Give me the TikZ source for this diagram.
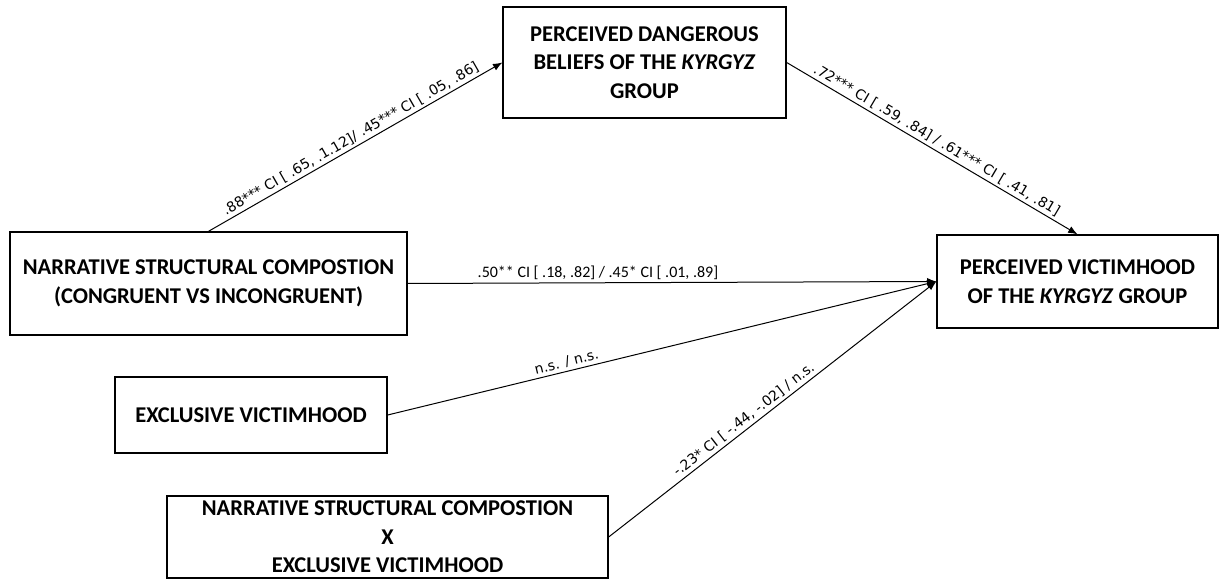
\documentclass[tikz,border=0pt]{standalone}
\usepackage{fontspec}
\setmainfont{Carlito}
\newfontfamily\labelfont{DejaVu Sans}
\usetikzlibrary{arrows.meta}
\begin{document}
\begin{tikzpicture}[x=0.75pt,y=-0.75pt,
  box/.style={draw=black, line width=1pt, align=center, inner sep=0pt,
    font=\bfseries\fontsize{16.9}{21.5}\selectfont},
  path/.style={draw=black, line width=0.75pt, -{Latex[length=7pt,width=5.5pt]}},
  coef/.style={font=\labelfont\fontsize{10.5}{12}\selectfont, inner sep=2pt},
  coefh/.style={font=\fontsize{12}{14}\selectfont, inner sep=2pt}]
\useasboundingbox (0,0) rectangle (1224,580);

% variables
\node[box, minimum width=212.25pt, minimum height=83.25pt] (med) at (644.5,62.5)
  {PERCEIVED DANGEROUS\\BELIEFS OF THE \textit{KYRGYZ}\\GROUP};
\node[box, minimum width=297.75pt, minimum height=77.25pt] (nsc) at (208.5,283.5)
  {NARRATIVE STRUCTURAL COMPOSTION\\(CONGRUENT VS INCONGRUENT)};
\node[box, minimum width=204pt, minimum height=57pt] (exv) at (251,415)
  {EXCLUSIVE VICTIMHOOD};
\node[box, minimum width=330.75pt, minimum height=61.5pt] (int) at (387.5,537)
  {NARRATIVE STRUCTURAL COMPOSTION\\X\\EXCLUSIVE VICTIMHOOD};
\node[box, minimum width=210.75pt, minimum height=69.75pt] (out) at (1077.5,281.5)
  {PERCEIVED VICTIMHOOD\\OF THE \textit{KYRGYZ} GROUP};

% paths with coefficients
\draw[path] (nsc.north) -- node[coef, sloped, above, midway]
  {.88*** CI [ .65, .1.12]/ .45*** CI [ .05, .86]} (med.west);
\draw[path] (med.east) -- node[coef, sloped, above, midway]
  {.72*** CI [ .59, .84] / .61*** CI [ .41, .81]} (out.north);
\draw[path] (nsc.east) -- node[coefh, above, pos=0.36]
  {.50** CI [ .18, .82] / .45* CI [ .01, .89]} (out.west);
\draw[path] (exv.east) -- node[coef, sloped, above, pos=0.33]
  {n.s. / n.s.} (out.west);
\draw[path] (int.east) -- node[coef, sloped, above, pos=0.43]
  {-.23* CI [ -.44, -.02] / n.s.} (out.west);
\end{tikzpicture}
\end{document}
